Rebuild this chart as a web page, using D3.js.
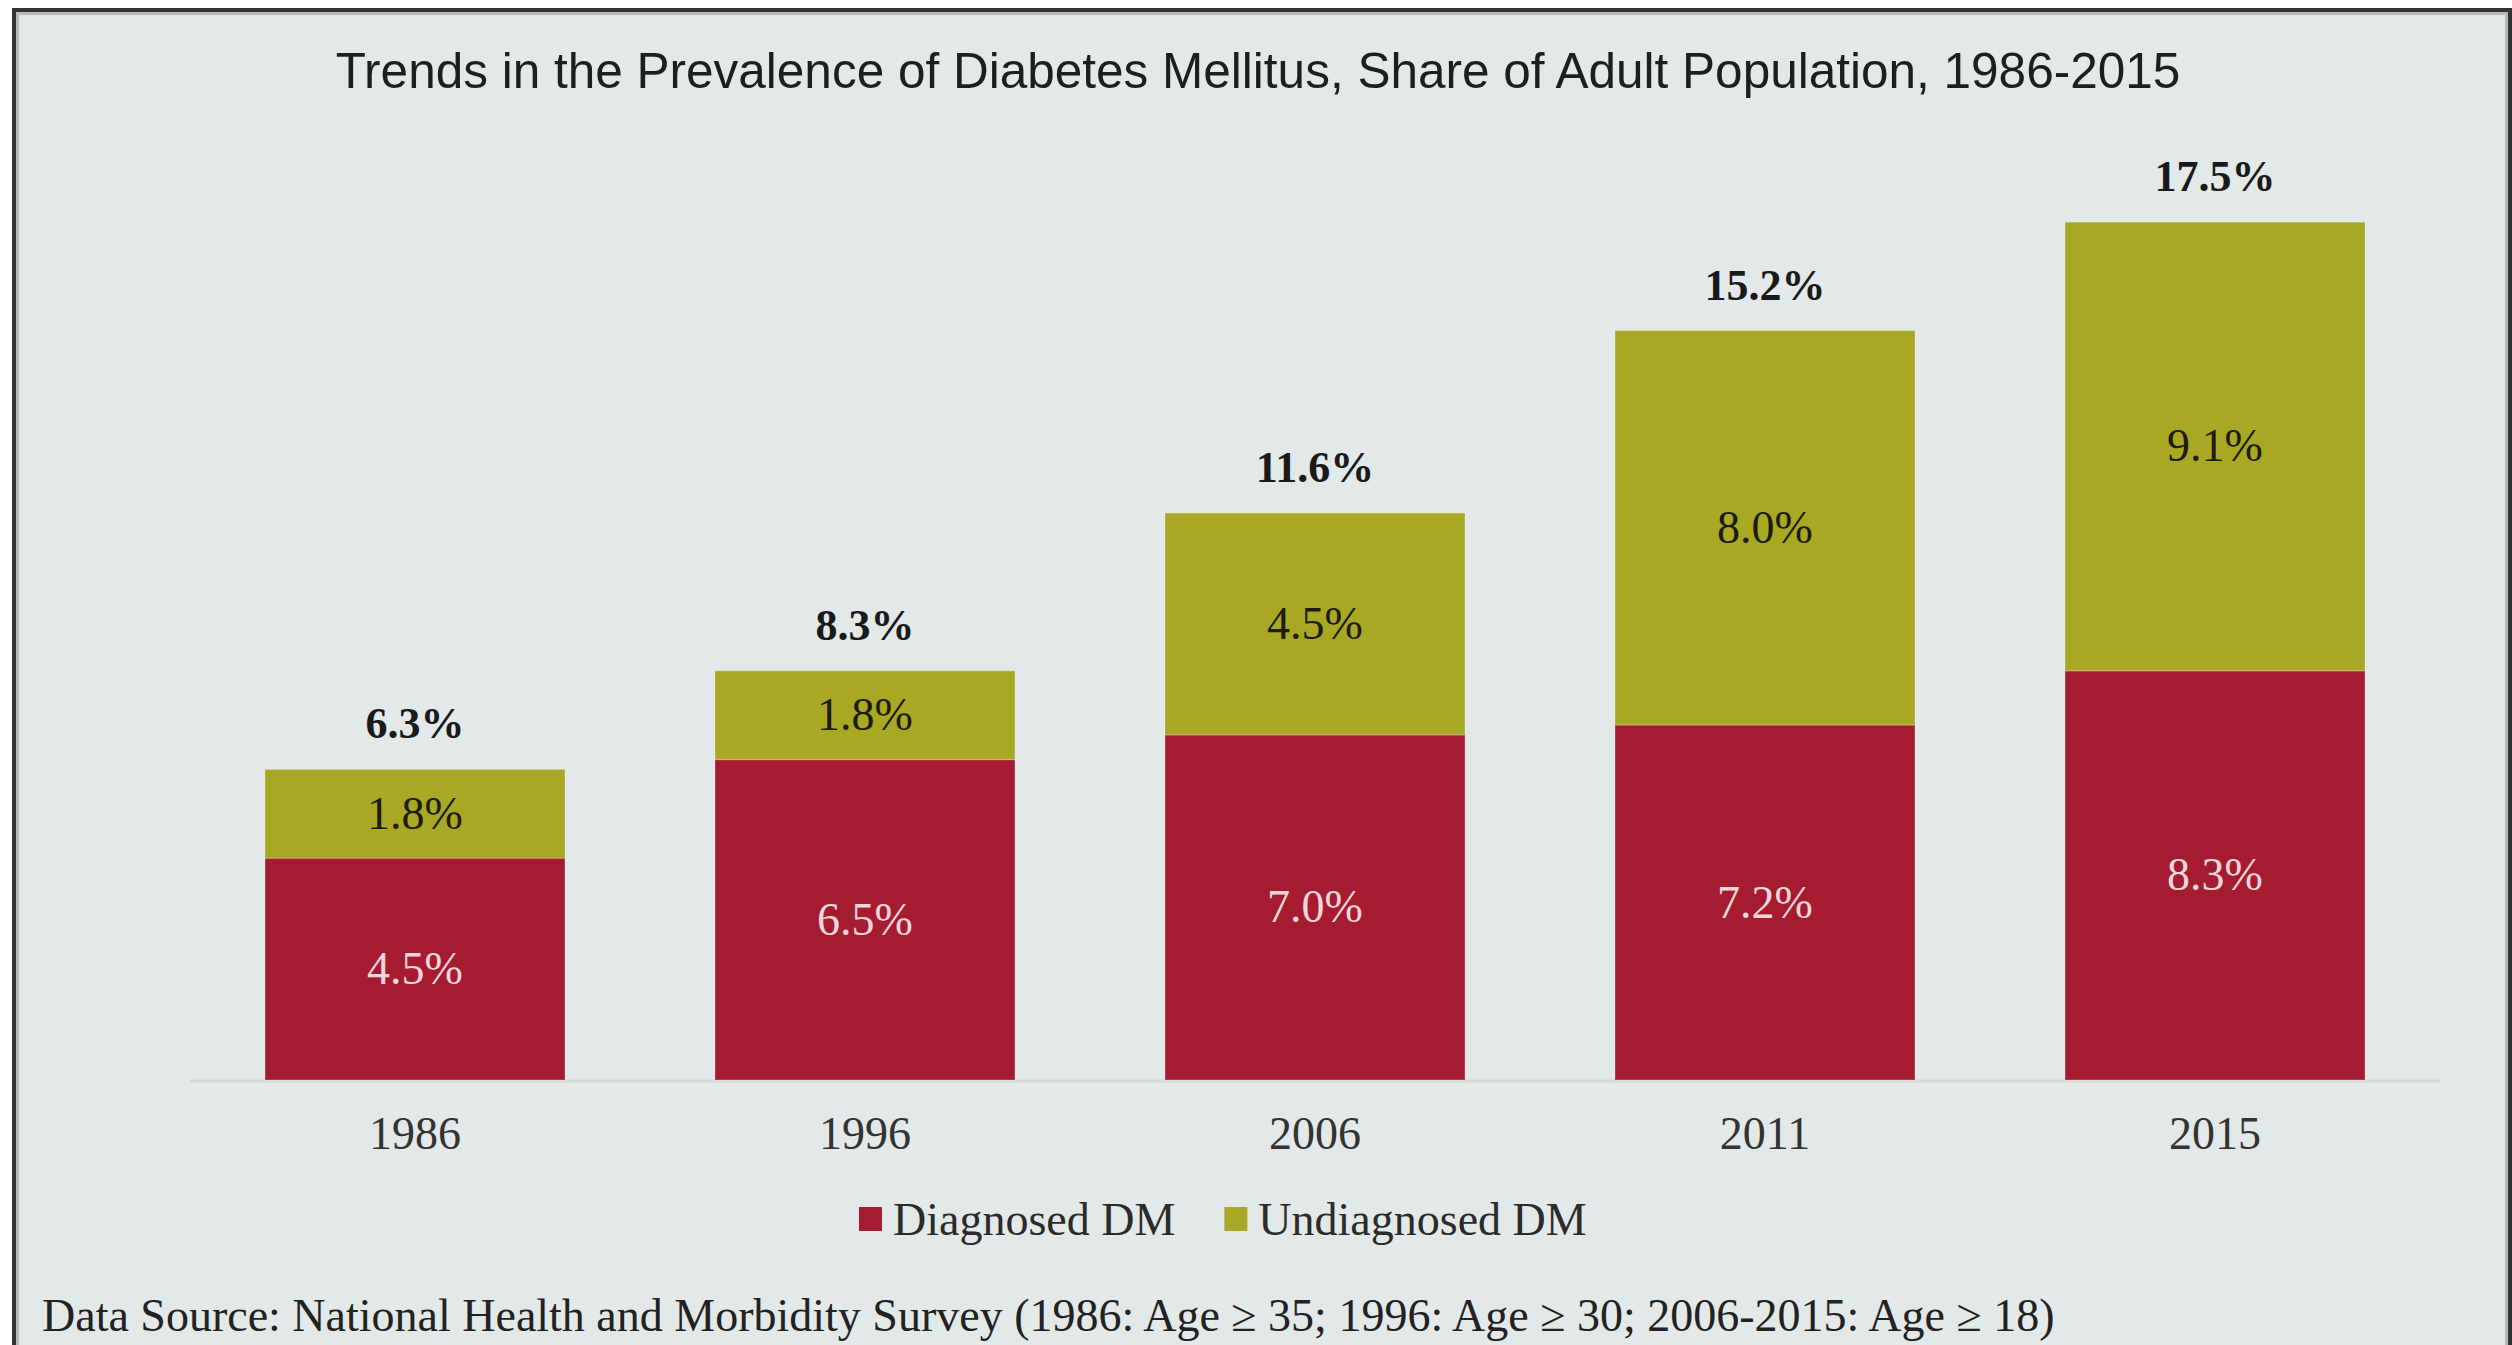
<!DOCTYPE html>
<html>
<head>
<meta charset="utf-8">
<script src="https://cdn.jsdelivr.net/npm/d3@7"></script>
<style>
  html, body { margin: 0; padding: 0; background: #ffffff; }
  svg { display: block; }
</style>
</head>
<body>
<div class="canvas"></div>
<script>
const years = ['1986', '1996', '2006', '2011', '2015']
const diagnosed = [4.5, 6.5, 7.0, 7.2, 8.3]
const undiagnosed = [1.8, 1.8, 4.5, 8.0, 9.1]
const totals = [6.3, 8.3, 11.6, 15.2, 17.5]
const seriesNames = ['Diagnosed DM', 'Undiagnosed DM']
const seriesColors = ['#a51b30', '#a8a824']

const titleText = 'Trends in the Prevalence of Diabetes Mellitus, Share of Adult Population, 1986-2015'
const sourceText = 'Data Source:  National Health and Morbidity Survey (1986: Age \u2265 35; 1996: Age \u2265 30; 2006-2015: Age \u2265 18)'

const W = 2512, H = 1345
const serif = '"Liberation Serif", "Times New Roman", serif'

const svg = d3.select('.canvas').append('svg').attr('width', W).attr('height', H)

// frame
svg.append('rect').attr('x', 14).attr('y', 10).attr('width', W - 16).attr('height', H + 20)
    .attr('fill', '#e3e8e8').attr('stroke', '#333333').attr('stroke-width', 4)
svg.append('rect').attr('x', 17.5).attr('y', 13.5).attr('width', W - 23).attr('height', H + 20)
    .attr('fill', 'none').attr('stroke', '#b6baba').attr('stroke-width', 3)

svg.append('text')
    .attr('x', 1258).attr('y', 88)
    .attr('text-anchor', 'middle')
    .attr('font-family', '"Liberation Sans", Arial, sans-serif')
    .attr('font-size', 49.5)
    .attr('fill', '#1e1e1e')
    .text(titleText)

const table = years.map((yr, i) => ({ year: yr, d: diagnosed[i], u: undiagnosed[i], total: totals[i] }))
const stacked = d3.stack().keys(['d', 'u'])(table)

const x = d3.scaleBand()
    .domain(years)
    .range([190, 2440])
    .paddingInner(1 / 3)
    .paddingOuter(1 / 6)

const y = d3.scaleLinear()
    .domain([0, 20])
    .range([1080, 94])

// baseline
svg.append('line')
    .attr('x1', x.range()[0]).attr('x2', x.range()[1])
    .attr('y1', y(0) + 1).attr('y2', y(0) + 1)
    .attr('stroke', '#d4d8d8').attr('stroke-width', 3)

const layers = svg.selectAll('g.layer').data(stacked).enter().append('g')
    .attr('class', 'layer')
    .attr('fill', (d, i) => seriesColors[i])

layers.selectAll('rect').data(d => d).enter().append('rect')
    .attr('x', d => x(d.data.year))
    .attr('width', x.bandwidth())
    .attr('y', d => y(d[1]))
    .attr('height', d => y(d[0]) - y(d[1]))
    .attr('stroke', 'rgba(255,255,255,0.18)')
    .attr('stroke-width', 1.5)

const fmt = v => d3.format('.1f')(v) + '%'
const labelColors = ['#f3d6dc', '#1c1c08']

layers.selectAll('text').data(d => d).enter().append('text')
    .attr('x', d => x(d.data.year) + x.bandwidth() / 2)
    .attr('y', d => (y(d[0]) + y(d[1])) / 2 + 15)
    .attr('text-anchor', 'middle')
    .attr('font-family', serif)
    .attr('font-size', 46)
    .attr('fill', function () { return labelColors[d3.select(this.parentNode).datum().index] })
    .text(d => fmt(d[1] - d[0]))

// total labels
const topLayer = stacked[stacked.length - 1]
svg.selectAll('text.total').data(table).enter().append('text')
    .attr('class', 'total')
    .attr('x', d => x(d.year) + x.bandwidth() / 2)
    .attr('y', (d, i) => y(topLayer[i][1]) - 31)
    .attr('text-anchor', 'middle')
    .attr('font-family', serif)
    .attr('font-weight', 'bold')
    .attr('font-size', 44)
    .attr('fill', '#1a1a1a')
    .text(d => fmt(d.total))

// x axis labels
const xAxis = d3.axisBottom(x).tickSize(0).tickPadding(0)
const xAxisGroup = svg.append('g').attr('transform', `translate(0, ${y(0)})`).call(xAxis)
xAxisGroup.select('.domain').remove()
xAxisGroup.selectAll('text')
    .attr('y', 69).attr('dy', 0)
    .attr('font-family', serif)
    .attr('font-size', 46)
    .attr('fill', '#333333')

// legend
const legend = svg.append('g').attr('transform', 'translate(859, 1235)')
let lx = 0
seriesNames.forEach((name, i) => {
    legend.append('rect')
        .attr('x', lx).attr('y', -28).attr('width', 23).attr('height', 24)
        .attr('fill', seriesColors[i])
    const t = legend.append('text')
        .attr('x', lx + 34).attr('y', 0)
        .attr('font-family', serif)
        .attr('font-size', 46)
        .attr('fill', '#2b2b2b')
        .text(name)
    lx += 34 + t.node().getComputedTextLength() + 49
})

svg.append('text')
    .attr('x', 42).attr('y', 1331)
    .attr('font-family', serif)
    .attr('font-size', 46)
    .attr('fill', '#222222')
    .text(sourceText)
</script>
</body>
</html>
